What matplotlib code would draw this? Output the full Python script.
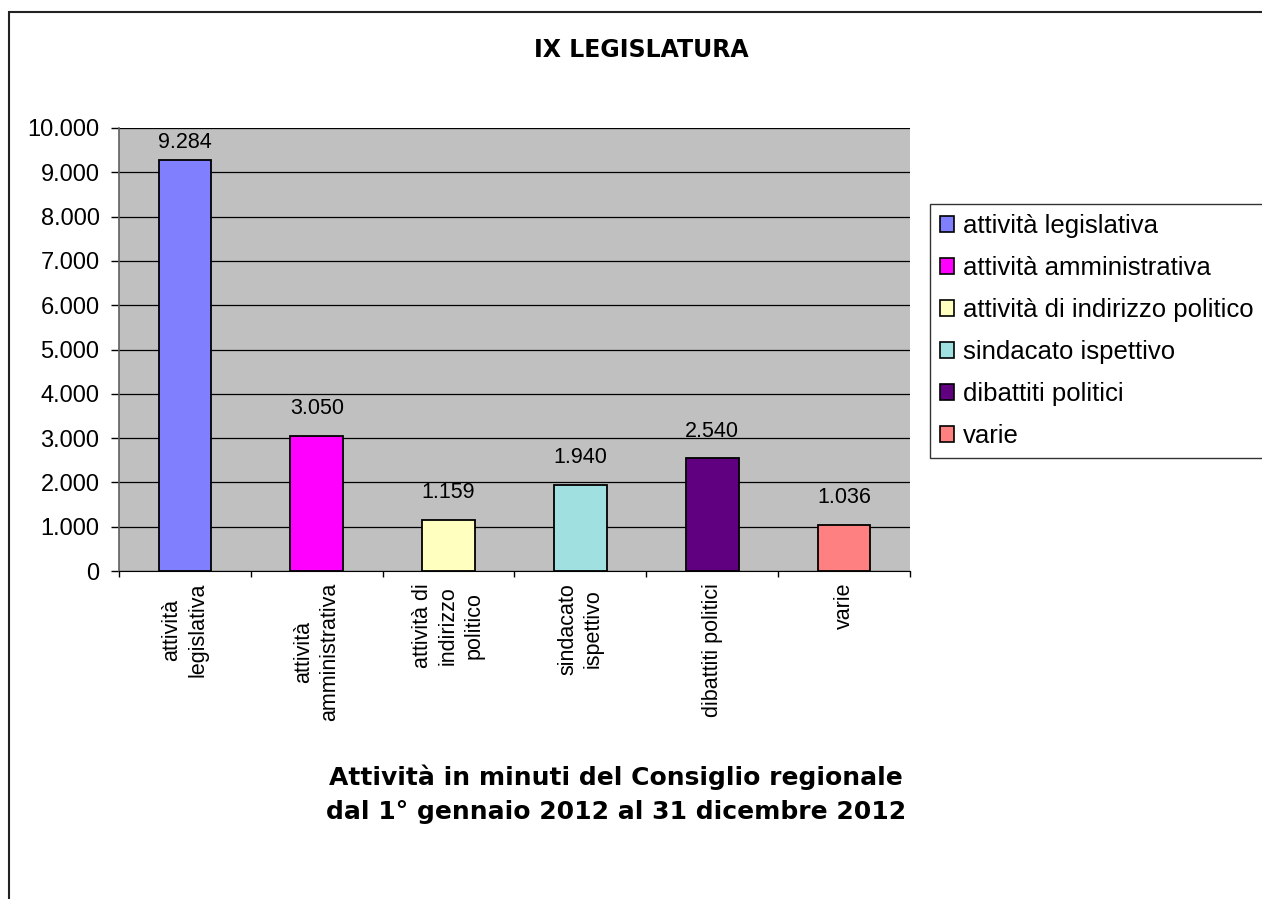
import matplotlib
matplotlib.use("Agg")
import matplotlib.pyplot as plt
from matplotlib.patches import Rectangle, Patch
from matplotlib.ticker import FuncFormatter

# minuti di attività per categoria, anno 2012
categorie = ["attività legislativa", "attività amministrativa",
             "attività di indirizzo politico", "sindacato ispettivo",
             "dibattiti politici", "varie"]
etichette_asse = ["attività\nlegislativa", "attività\namministrativa",
                  "attività di\nindirizzo\npolitico", "sindacato\nispettivo",
                  "dibattiti politici", "varie"]
minuti = [9284, 3050, 1159, 1940, 2540, 1036]
colori = ["#8080FF", "#FF00FF", "#FFFFC0", "#A0E0E0", "#600080", "#FF8080"]
y_ticks = list(range(0, 10001, 1000))

W, H = 1262, 899
fig = plt.figure(figsize=(W / 100, H / 100), dpi=100)
fig.patch.set_facecolor("white")

def fx(px):
    return px / W

def fy(py):
    return 1 - py / H

ax = fig.add_axes([fx(119), fy(571), fx(910) - fx(119), fy(128) - fy(571)])
ax.set_facecolor("#C0C0C0")

def sep_migliaia(v, pos=None):
    return f"{int(v):,}".replace(",", ".")

x = list(range(len(minuti)))
ax.bar(x, minuti, width=0.4, color=colori, edgecolor="black", linewidth=1.3, zorder=3)
for xi, v in zip(x, minuti):
    # etichetta sopra la barra, tenuta dentro l'area del grafico
    ax.text(xi, min(v + 620, 9680), sep_migliaia(v), ha="center", va="center",
            fontsize=15.5, family="Liberation Sans", zorder=4)

ax.set_xlim(-0.5, len(minuti) - 0.5)
ax.set_ylim(0, 10000)
ax.set_yticks(y_ticks)
ax.yaxis.set_major_formatter(FuncFormatter(sep_migliaia))
ax.grid(axis="y", color="black", linewidth=0.9, zorder=1)
ax.set_axisbelow(True)

# tacche dell'asse x ai confini fra le categorie
ax.set_xticks([i - 0.5 for i in range(len(minuti) + 1)])
ax.set_xticklabels([])
ax.tick_params(axis="x", direction="out", length=4.5, width=1)
ax.tick_params(axis="y", direction="out", length=5.5, width=1, labelsize=17, pad=8.5)
for lab in ax.get_yticklabels():
    lab.set_family("Liberation Sans")

for s in ["top", "right"]:
    ax.spines[s].set_visible(False)
ax.spines["left"].set_color("#606060")
ax.spines["left"].set_linewidth(1.2)
ax.spines["bottom"].set_color("black")

for xi, lab in zip(x, etichette_asse):
    ax.text(xi, -0.027, lab, transform=ax.get_xaxis_transform(), rotation=90,
            ha="center", va="top", multialignment="center", fontsize=15.5,
            family="Liberation Sans", linespacing=1.3)

fig.text(fx(641), fy(50), "IX LEGISLATURA", ha="center", va="center",
         fontsize=17, fontweight="bold", family="DejaVu Sans")
fig.text(fx(616), fy(794), "Attività in minuti del Consiglio regionale\n"
         "dal 1° gennaio 2012 al 31 dicembre 2012", ha="center", va="center",
         fontsize=18, fontweight="bold", family="DejaVu Sans", linespacing=1.5)

handles = [Patch(facecolor=c, edgecolor="black", linewidth=1.2) for c in colori]
leg = fig.legend(handles, categorie, loc="upper left",
                 bbox_to_anchor=(fx(930), fy(204)), frameon=True, fancybox=False,
                 prop={"family": "Liberation Sans", "size": 18.5}, handlelength=0.55,
                 handleheight=0.55, handletextpad=0.35, labelspacing=0.7,
                 borderpad=0.4, borderaxespad=0)
leg.get_frame().set_edgecolor("black")
leg.get_frame().set_linewidth(1)

# cornice esterna del grafico
fig.patches.append(Rectangle((fx(9), -0.1), 1.2, fy(12) + 0.1, transform=fig.transFigure,
                             fill=False, edgecolor="#222222", linewidth=1.5))

fig.savefig("out.png", dpi=100)
